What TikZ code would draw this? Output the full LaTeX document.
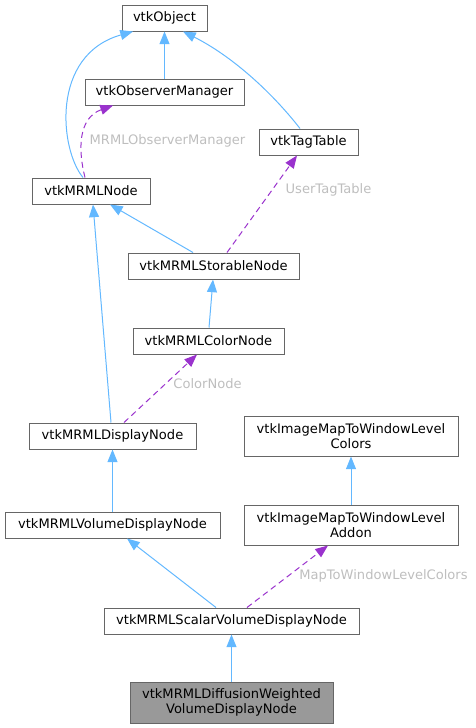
\documentclass[tikz,border=0pt]{standalone}
\usepackage{fontspec}
\setmainfont{DejaVu Sans}
\usetikzlibrary{calc,arrows.meta}
\definecolor{edgeblue}{HTML}{63B8FF}
\definecolor{edgepurple}{HTML}{9A32CD}
\definecolor{boxgray}{HTML}{666666}
\definecolor{labelgray}{HTML}{BEBEBE}
\definecolor{fillgray}{HTML}{999999}
\begin{document}
\begin{tikzpicture}[x=0.75pt,y=-0.75pt,
  every node/.style={font=\fontsize{9.8}{10.7}\selectfont},
  box/.style={draw=boxgray,line width=0.75pt,fill=white,inner sep=0pt,minimum height=19.5pt,align=center},
  tallbox/.style={box,minimum height=30pt},
  inh/.style={draw=edgeblue,line width=0.75pt,-{Triangle[length=9.5pt,width=7.5pt]}},
  use/.style={draw=edgepurple,line width=0.75pt,dash pattern=on 4.5pt off 3pt,-{Triangle[length=9.5pt,width=7.5pt]}},
  lbl/.style={text=labelgray,inner sep=0pt}]
\useasboundingbox (0,0) rectangle (475,728);
\node[box,minimum width=63.75pt] (obj) at (164.5,18) {vtkObject};
\node[box,minimum width=119.25pt] (obs) at (164.5,92) {vtkObserverManager};
\node[box,minimum width=74.25pt] (tag) at (308.5,142) {vtkTagTable};
\node[box,minimum width=88.5pt] (mrml) at (91,191) {vtkMRMLNode};
\node[box,minimum width=128.25pt] (stor) at (213.5,266) {vtkMRMLStorableNode};
\node[box,minimum width=113.25pt] (color) at (208.5,341) {vtkMRMLColorNode};
\node[box,minimum width=125.25pt] (disp) at (112.5,436) {vtkMRMLDisplayNode};
\node[tallbox,minimum width=160.5pt] (colors) at (351,436) {vtkImageMapToWindowLevel\\Colors};
\node[box,minimum width=161.25pt] (vol) at (112.5,525) {vtkMRMLVolumeDisplayNode};
\node[tallbox,minimum width=160.5pt] (addon) at (351,525) {vtkImageMapToWindowLevel\\Addon};
\node[box,minimum width=191.25pt] (scal) at (231.5,621) {vtkMRMLScalarVolumeDisplayNode};
\node[tallbox,minimum width=152.25pt,minimum height=30.75pt,fill=fillgray] (dw) at (231.5,702.5) {vtkMRMLDiffusionWeighted\\VolumeDisplayNode};
% inheritance edges
\draw[inh] ($(mrml.north)+(-8,0)$) .. controls (60,150) and (50,55) .. ($(obj.south)+(-31.5,0)$);
\draw[inh] (obs.north) -- (obj.south);
\draw[inh] ($(tag.north)+(-8.5,0)$) .. controls (270,90) and (230,55) .. ($(obj.south)+(18.5,0)$);
\draw[inh] ($(stor.north)+(-20.5,0)$) -- ($(mrml.south)+(19,0)$);
\draw[inh] ($(disp.north)+(-1.5,0)$) -- ($(mrml.south)+(2,0)$);
\draw[inh] ($(color.north)+(0.5,0)$) -- ($(stor.south)+(-0.5,0)$);
\draw[inh] (vol.north) -- (disp.south);
\draw[inh] (addon.north) -- (colors.south);
\draw[inh] ($(scal.north)+(-15.5,0)$) -- ($(vol.south)+(14.5,0)$);
\draw[inh] (dw.north) -- (scal.south);
% usage edges
\draw[use] ($(mrml.north)+(-6,0)$) .. controls (78,150) and (78,118) .. ($(obs.south)+(-51.5,0)$);
\node[lbl] (l1) at (167.5,141) {MRMLObserverManager};
\draw[use] ($(stor.north)+(13.5,0)$) -- ($(tag.south)+(-11.5,0)$);
\node[lbl] (l2) at (328.5,190) {UserTagTable};
\draw[use] ($(disp.north)+(11.5,0)$) -- ($(color.south)+(-11.5,0)$);
\node[lbl] (l3) at (207.5,384) {ColorNode};
\draw[use] ($(scal.north)+(15.5,0)$) -- ($(addon.south)+(-23,0)$);
\node[lbl] (l4) at (383.5,576) {MapToWindowLevelColors};
\end{tikzpicture}
\end{document}
